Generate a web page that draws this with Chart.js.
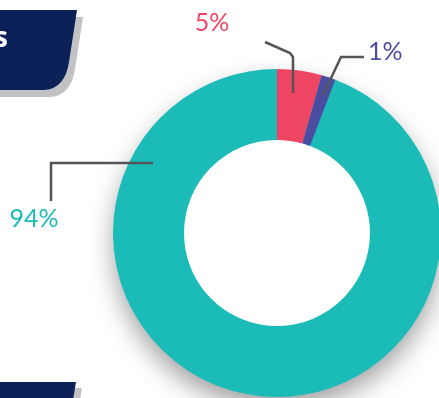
<!DOCTYPE html>
<html>
<head>
<meta charset="utf-8">
<script src="https://cdn.jsdelivr.net/npm/chart.js@4"></script>
<style>
  html, body { margin: 0; padding: 0; background: #fff; overflow: hidden; width: 439px; height: 398px; }
  canvas { position: absolute; left: 0; top: 0; }
</style>
</head>
<body>
<canvas id="donut" width="460" height="420"></canvas>
<script>
// --- 1. DATA ---

const categories = ['Red share', 'Purple share', 'Teal share'];
const shares = [4.4, 1.4, 94.2];           // slice sizes
const shareLabels = ['5%', '1%', '94%'];     // printed labels
const sliceColors = ['#EE4563', '#4A4EA3', '#1BBBB8'];

// leader lines, offsets from the ring centre (anchor, bends..., text position)
const leaders = [
    { pts: [[16, -140], [16, -176], [13, -180], [-12, -191]], text: [-65, -210], align: 'center' },
    { pts: [[46, -138], [64, -176], [87, -176]], text: [91, -181], align: 'left' },
    { pts: [[-124, -70], [-226, -70], [-226, -32]], text: [-243, -14], align: 'center' }
];

// --- 2. PLUGINS ---

// soft drop shadow under the ring, hole stays white
const ringShadow = {
    id: 'ringShadow',
    beforeDatasetsDraw(chart) {
        const arc = chart.getDatasetMeta(0).data[0];
        const { x, y, outerRadius, innerRadius } = arc.getProps(['x', 'y', 'outerRadius', 'innerRadius'], true);
        const c = chart.ctx;
        c.save();
        c.shadowColor = 'rgba(0,0,0,0.38)';
        c.shadowBlur = 26;
        c.shadowOffsetY = 12;
        c.fillStyle = sliceColors[2];
        c.beginPath();
        c.arc(x, y, outerRadius - 1, 0, Math.PI * 2);
        c.fill();
        c.restore();
        c.fillStyle = '#fff';
        c.beginPath();
        c.arc(x, y, innerRadius + 1, 0, Math.PI * 2);
        c.fill();
    }
};

// navy tabs on the left, leader lines and labels
const decorations = {
    id: 'decorations',
    afterDraw(chart) {
        const c = chart.ctx;
        const arc = chart.getDatasetMeta(0).data[0];
        const cx = arc.x, cy = arc.y;

        // top tab: shadow first, then navy
        const tab = (dx, dy, col) => {
            c.fillStyle = col;
            c.beginPath();
            c.moveTo(0, 10 + dy);
            c.lineTo(77 + dx, 10 + dy);
            c.lineTo(69 + dx, 62 + dy);
            c.quadraticCurveTo(65 + dx, 88 + dy, 45 + dx, 90 + dy);
            c.lineTo(0, 90 + dy);
            c.closePath();
            c.fill();
        };
        tab(6, 7, '#C2C2C4');
        tab(0, 0, '#0B2157');
        c.fillStyle = '#fff';
        c.font = 'bold 28px "Open Sans", sans-serif';
        c.textAlign = 'right';
        c.textBaseline = 'alphabetic';
        c.fillText('s', 8, 47);

        // bottom tab
        c.fillStyle = '#C2C2C4';
        c.beginPath();
        c.moveTo(0, 388); c.lineTo(82, 388); c.lineTo(80, 400); c.lineTo(0, 400);
        c.closePath(); c.fill();
        c.fillStyle = '#0B2157';
        c.beginPath();
        c.moveTo(0, 382); c.lineTo(76, 382); c.lineTo(73, 400); c.lineTo(0, 400);
        c.closePath(); c.fill();

        // leader lines and percentage labels
        leaders.forEach((ld, i) => {
            c.strokeStyle = '#555559';
            c.lineWidth = 2.5;
            c.lineJoin = 'miter';
            c.beginPath();
            ld.pts.forEach((p, k) => {
                if (k === 0) c.moveTo(cx + p[0], cy + p[1]);
                else c.lineTo(cx + p[0], cy + p[1]);
            });
            c.stroke();

            c.fillStyle = sliceColors[i];
            c.font = '25px Lato, sans-serif';
            c.textAlign = ld.align;
            c.textBaseline = 'middle';
            c.fillText(shareLabels[i], cx + ld.text[0], cy + ld.text[1]);
        });
    }
};

// --- 3. CHART ---

const ctx = document.getElementById('donut').getContext('2d');
const donutChart = new Chart(ctx, {
    type: 'doughnut',
    data: {
        labels: categories,
        datasets: [{
            data: shares,
            backgroundColor: sliceColors,
            borderWidth: 0
        }]
    },
    options: {
        responsive: false,
        animation: false,
        cutout: '56.7%',
        layout: { padding: { left: 113, right: 19, top: 69, bottom: 23 } },
        plugins: {
            legend: { display: false },
            tooltip: { enabled: false }
        }
    },
    plugins: [ringShadow, decorations]
});
</script>
</body>
</html>
